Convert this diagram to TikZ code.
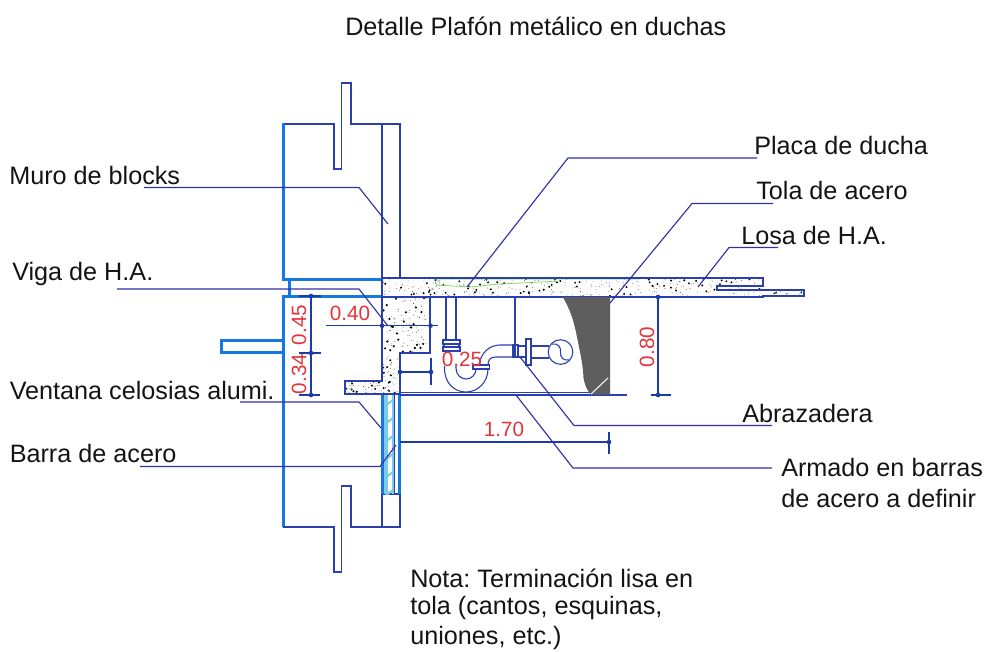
\documentclass[tikz,border=0pt]{standalone}
\usepackage{fontspec}
\setmainfont{Liberation Sans}
\usetikzlibrary{calc}
\frenchspacing
\definecolor{dk}{HTML}{2A3FB0}
\definecolor{wallblue}{HTML}{1478E0}
\definecolor{leadcol}{HTML}{3030A8}
\definecolor{dimred}{HTML}{E4343A}
\definecolor{dimline}{HTML}{1C3BA8}
\definecolor{grayfill}{HTML}{5E5E5E}
\definecolor{cy}{HTML}{7CCBE4}
\begin{document}
\begin{tikzpicture}[x=0.75pt,y=-0.75pt,
  lab/.style={font=\fontsize{18.9pt}{22pt}\selectfont\frenchspacing,text=black!92,inner sep=0,anchor=west,align=left},
  dimt/.style={font=\fontsize{15.5pt}{18pt}\selectfont,text=dimred,inner sep=0},
  ln/.style={draw=dk,line width=0.8pt},
  thk/.style={fill=wallblue,draw=none},
  leader/.style={draw=leadcol,line width=0.85pt},
  dm/.style={draw=dimline,line width=0.8pt},
  dotd/.style={fill=dimline,draw=none}]
\useasboundingbox (0,0) rectangle (987,651);
% speckled concrete
\fill[white] (0,0) rectangle (987,651);
\pgfmathsetseed{7}
\foreach \i in {1,...,300}{
  \pgfmathsetmacro\px{382+rnd*378}\pgfmathsetmacro\py{279+rnd*17}
  \pgfmathsetmacro\ps{rnd<0.8?0.25:0.8}
  \fill[black] (\px,\py) circle[radius=\ps pt];}
\foreach \i in {1,...,110}{
  \pgfmathsetmacro\px{383+rnd*46}\pgfmathsetmacro\py{298+rnd*54}
  \pgfmathsetmacro\ps{rnd<0.75?0.25:0.9}
  \fill[black] (\px,\py) circle[radius=\ps pt];}
\foreach \i in {1,...,45}{
  \pgfmathsetmacro\px{383+rnd*16}\pgfmathsetmacro\py{353+rnd*40}
  \pgfmathsetmacro\ps{rnd<0.75?0.25:0.85}
  \fill[black] (\px,\py) circle[radius=\ps pt];}
\foreach \i in {1,...,40}{
  \pgfmathsetmacro\px{346+rnd*36}\pgfmathsetmacro\py{382+rnd*11}
  \pgfmathsetmacro\ps{rnd<0.8?0.25:0.8}
  \fill[black] (\px,\py) circle[radius=\ps pt];}
\foreach \i in {1,...,14}{
  \pgfmathsetmacro\px{764+rnd*38}\pgfmathsetmacro\py{291.5+rnd*3.5}
  \pgfmathsetmacro\ps{rnd<0.75?0.25:0.7}
  \fill[black] (\px,\py) circle[radius=\ps pt];}
% green trace on slab
\draw[draw=green!50!olive!70,line width=0.5pt] (434,279) -- (640,279) (434,279) -- (437,285) -- (470,287) -- (500,284) -- (560,281);
% upper wall
\draw[ln] (283,124) -- (334,124) -- (334,169) -- (341.5,169) -- (341.5,83) -- (351,83) -- (351,124) -- (400,124) -- (400,278);
\draw[ln] (382,124) -- (382,279);
\fill[thk] (281.5,123) rectangle (284.5,280.5);
\fill[thk] (281.5,277.5) rectangle (382,280.5);
\fill[thk] (287.5,279) rectangle (290.5,296);
\fill[thk] (281.5,294.5) rectangle (382,297.5);
\fill[thk] (281.5,294.5) rectangle (284.5,527);
% window sill
\fill[thk] (220,339) rectangle (283,342);
\fill[thk] (220,339) rectangle (223,353.5);
\fill[thk] (220,350.5) rectangle (283,353.5);
% lower wall
\draw[ln] (283,527) -- (334,527) -- (334,572) -- (341.5,572) -- (341.5,486) -- (351,486) -- (351,527) -- (400,527) -- (400,494) -- (381,494);
\draw[ln] (382,494) -- (382,527);
% bars in window zone
\fill[cy] (383,394) rectangle (388,494);
\begin{scope}
\clip (383,394) rectangle (394,494);
\foreach \k in {0,...,5}{
  \draw[cy,line width=1.5pt] (383,{408+\k*18}) -- (394,{399+\k*18});}
\end{scope}
\draw[cy,line width=1.1pt] (393,394) -- (393,494);
\draw[ln] (394.5,394) -- (394.5,494);
\fill[thk] (380.5,394) rectangle (383.5,494);
\fill[thk] (398,394) rectangle (401,494);
% slab
\draw[ln] (382,278) -- (763,278) -- (763,286) -- (717,286) -- (717,290) -- (804,290) -- (804,296) -- (763,296) -- (763,297) -- (382,297);
% beam
\draw[ln,line width=1pt] (382,279) -- (382,381) -- (345,381) -- (345,394) -- (400,394) -- (400,353) -- (430,353) -- (430,297);
% ceiling
\draw[ln,line width=1.1pt] (400,392.5) -- (590,392.5);
\draw[ln,line width=0.9pt] (400,395) -- (627,395);
% gray infill
\fill[grayfill] (562.7,297) .. controls (571,311) and (574,322) .. (577,337) .. controls (580,352) and (583,365) .. (583.5,378) .. controls (585,386) and (588,392) .. (591,394.5) -- (610,394.5) -- (610,297) -- cycle;
\draw[white!90!gray,line width=0.8pt] (591,394) -- (608,378);
% pipes
\draw[ln] (446,297) -- (446,340) (456,297) -- (456,340);
\draw[ln,fill=white] (443,340) rectangle (460,344);
\draw[ln,fill=white] (444,344) rectangle (459,347);
\draw[ln,fill=white] (443,347) rectangle (460,351);
% trap
\draw[ln] (444.5,366) -- (444.5,368) .. controls (444.5,384) and (455,392) .. (466,392) .. controls (478,392) and (488,382) .. (488,369);
\draw[ln] (456,366) -- (456,368) .. controls (456,375) and (461,379) .. (466,379) .. controls (471,379) and (476,375) .. (476,369);
\draw[ln,line width=1.4pt,fill=white] (473,365) rectangle (489.5,369);
\draw[ln] (479,365) .. controls (481,352) and (490,345) .. (500,345) -- (513,345);
\draw[ln] (488,365) .. controls (488,360) and (490,357) .. (496,357) -- (513,357);
\draw[ln] (513,345) rectangle (518,357);
\draw[ln] (515,297) -- (515,357);
\draw[ln] (518,346) -- (526,346) (518,357) -- (526,357);
\draw[ln,fill=white] (526,339) rectangle (531,365);
\draw[ln] (531,346) -- (549,346) (531,358) -- (549,358);
\draw[ln,fill=white] (560.5,352) circle[radius=12.3];
\draw[ln] (552,344) .. controls (558,343) and (561,347) .. (560.5,352) .. controls (560,357) and (563,361) .. (569,360);
% dimension lines
\draw[dm] (311,296) -- (311,395) (299,296) -- (321,296) (299,353) -- (321,353) (299,395) -- (320,395);
\foreach \yy in {296,353,395}{\fill[dotd] (311,\yy) circle[radius=2.3];}
\draw[dm] (326,325.7) -- (438,325.7);
\foreach \xx in {382,430.5}{\fill[dotd] (\xx,325.7) circle[radius=2.3];}
\draw[dm] (400,372) -- (431,372) (431,358) -- (431,385);
\foreach \xx in {400,431}{\fill[dotd] (\xx,372) circle[radius=2.3];}
\draw[dm] (658,297) -- (658,395) (651,395) -- (671,395);
\foreach \yy in {297,395}{\fill[dotd] (658,\yy) circle[radius=2.3];}
\draw[dm] (400,442) -- (609,442) (609,432) -- (609,454);
\fill[dotd] (609,442) circle[radius=2.3];
% dimension texts
\node[dimt,rotate=90] (d45) at (299,325) {0.45};
\node[dimt,rotate=90] (d34) at (299,374) {0.34};
\node[dimt] (d40) at (350,313) {0.40};
\node[dimt] (d25) at (462,359) {0.25};
\node[dimt] (d170) at (504,429) {1.70};
\node[dimt,rotate=90] (d80) at (647,347) {0.80};
% labels
\node[lab] (title) at (345,26) {Detalle Plafón metálico en duchas};
\node[lab] (placa) at (754,145) {Placa de ducha};
\node[lab] (tola) at (756,190) {Tola de acero};
\node[lab] (losa) at (741,235) {Losa de H.A.};
\node[lab] (muro) at (9,175) {Muro de blocks};
\node[lab] (viga) at (12,274) {Viga de H.A.};
\node[lab] (vent) at (9.5,390) {Ventana celosias alumi.};
\node[lab] (barra) at (9.5,453) {Barra de acero};
\node[lab] (abra) at (742,413) {Abrazadera};
\node[lab] (arm1) at (781,467) {Armado en barras};
\node[lab] (arm2) at (781,498) {de acero a definir};
\node[lab] (n1) at (410,578) {Nota: Terminación lisa en};
\node[lab] (n2) at (410,608) {tola (cantos, esquinas,};
\node[lab] (n3) at (410,638) {uniones, etc.)};
% leaders
\draw[leader] (467,287) -- (568,158) -- (757,158);
\draw[leader] (610,303) -- (692,203.5) -- (773,203.5);
\draw[leader] (698,287) -- (729,247.5) -- (778,247.5);
\draw[leader] (144,187.5) -- (359,187.5) -- (388,224);
\draw[leader] (117,289) -- (359,289) -- (388,326);
\draw[leader] (240,402) -- (359,402) -- (381,428);
\draw[leader] (140,466.5) -- (380,466.5) -- (396,445);
\draw[leader] (520,357) -- (574,425.5) -- (772,425.5);
\draw[leader] (516,395) -- (573,468) -- (772,468);
\end{tikzpicture}
\end{document}
